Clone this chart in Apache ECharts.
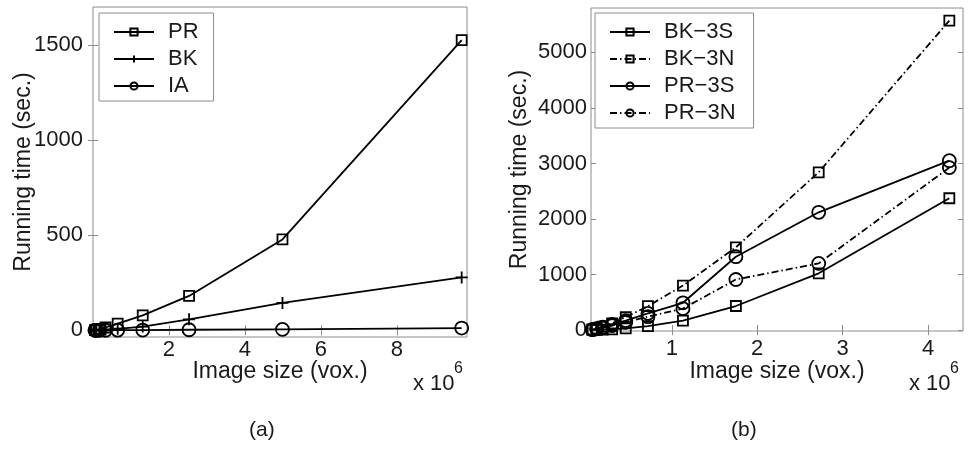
<!DOCTYPE html>
<html>
<head>
<meta charset="utf-8">
<script src="https://cdn.jsdelivr.net/npm/echarts@6/dist/echarts.min.js"></script>
<style>
  html, body { margin: 0; padding: 0; background: #fff; }
  #chart { width: 969px; height: 449px; }
</style>
</head>
<body>
<div id="chart"></div>
<script>
// (a) image size in units of 10^6 voxels
const sizeA = [9.71, 4.99, 2.53, 1.31, 0.65, 0.33, 0.17, 0.09, 0.05]
const prA = [1526, 478, 181, 79, 35, 15, 7, 3, 1]
const bkA = [278, 144, 58, 20, 8, 4, 2, 1, 0.5]
const iaA = [12, 5, 3, 1.5, 1, 0.5, 0.3, 0.2, 0.1]
const xTicksA = [2, 4, 6, 8]
const yTicksA = [0, 500, 1000, 1500]

// (b)
const sizeB = [4.25, 2.72, 1.75, 1.13, 0.72, 0.46, 0.30, 0.19, 0.12, 0.07]
const bk3s = [2373, 1021, 432, 170, 70, 30, 12, 6, 3, 1]
const bk3n = [5573, 2841, 1490, 800, 430, 230, 120, 60, 30, 10]
const pr3s = [3050, 2120, 1320, 490, 300, 170, 100, 50, 25, 8]
const pr3n = [2925, 1200, 910, 385, 240, 140, 80, 40, 20, 6]
const xTicksB = [1, 2, 3, 4]
const yTicksB = [0, 1000, 2000, 3000, 4000, 5000]

const FONT = 'Liberation Sans'
const TXT = '#1a1a1a'
const GREY = '#8c8c8c'
const PLUS = 'path://M5,0L5,10M0,5L10,5'

function pairs(xs, ys) {
  return xs.map((x, i) => [x, ys[i]])
}

function lineSeries(name, grid, xs, ys, symbol, size, dashed) {
  return {
    name: name,
    type: 'line',
    xAxisIndex: grid * 2,
    yAxisIndex: grid * 2,
    data: pairs(xs, ys),
    symbol: symbol,
    symbolSize: size,
    clip: false,
    animation: false,
    lineStyle: { color: '#000', width: 1.8, type: dashed ? [7, 3, 1.5, 3] : 'solid' },
    itemStyle: { color: 'rgba(0,0,0,0)', borderColor: '#000', borderWidth: 1.8 },
    emphasis: { disabled: true }
  }
}

function axisPair(grid, min, max, ticks, isX, labelMargin, name, nameGap) {
  const main = {
    type: 'value',
    gridIndex: grid,
    min: min,
    max: max,
    position: isX ? 'bottom' : 'left',
    axisLine: { show: false },
    splitLine: { show: false },
    axisTick: { inside: true, length: 5, customValues: ticks, lineStyle: { color: GREY } },
    axisLabel: {
      customValues: ticks,
      formatter: v => String(v),
      color: TXT, fontFamily: FONT, fontSize: 22, margin: labelMargin
    },
    name: name,
    nameLocation: 'middle',
    nameGap: nameGap,
    nameMoveOverlap: false,
    nameTextStyle: { color: TXT, fontFamily: FONT, fontSize: 23 }
  }
  const mirror = {
    type: 'value',
    gridIndex: grid,
    min: min,
    max: max,
    position: isX ? 'top' : 'right',
    axisLine: { show: false },
    splitLine: { show: false },
    axisTick: { inside: true, length: 5, customValues: ticks, lineStyle: { color: GREY } },
    axisLabel: { show: false }
  }
  return [main, mirror]
}

function legendAt(names, left, padRight) {
  return {
    data: names,
    orient: 'vertical',
    left: left,
    top: 13,
    padding: [6, padRight, 2, 14],
    itemWidth: 40,
    itemHeight: 9,
    itemGap: 1,
    backgroundColor: '#fff',
    borderColor: GREY,
    borderWidth: 1,
    borderRadius: 0,
    selectedMode: false,
    textStyle: { color: TXT, fontFamily: FONT, fontSize: 22, lineHeight: 26, padding: [0, 0, 0, 9] }
  }
}

const chart = echarts.init(document.getElementById('chart'), null, { renderer: 'canvas' })

const option = {
  backgroundColor: '#fff',
  animation: false,
  grid: [
    { left: 93, top: 7, right: 969 - 467, bottom: 449 - 337, show: true, borderColor: GREY, borderWidth: 1 },
    { left: 591, top: 8, right: 969 - 963, bottom: 449 - 331, show: true, borderColor: GREY, borderWidth: 1 }
  ],
  xAxis: [
    ...axisPair(0, 0, 9.85, xTicksA, true, 2, 'Image size (vox.)', 23),
    ...axisPair(1, 0.053, 4.41, xTicksB, true, 7, 'Image size (vox.)', 29)
  ],
  yAxis: [
    ...axisPair(0, -35, 1700, yTicksA, false, 10, 'Running time (sec.)', 58),
    ...axisPair(1, -18, 5800, yTicksB, false, 4, 'Running time (sec.)', 60)
  ],
  legend: [
    legendAt(['PR', 'BK', 'IA'], 99, 15),
    legendAt(['BK\u22123S', 'BK\u22123N', 'PR\u22123S', 'PR\u22123N'], 595, 18)
  ],
  graphic: [
    { type: 'text', left: 413, top: 373, style: { text: 'x 10', font: '22px "Liberation Sans"', fill: TXT } },
    { type: 'text', left: 454, top: 361, style: { text: '6', font: '16px "Liberation Sans"', fill: TXT } },
    { type: 'text', left: 909, top: 373, style: { text: 'x 10', font: '22px "Liberation Sans"', fill: TXT } },
    { type: 'text', left: 950, top: 361, style: { text: '6', font: '16px "Liberation Sans"', fill: TXT } },
    { type: 'text', left: 249, top: 420, style: { text: '(a)', font: '21px "Liberation Sans"', fill: TXT } },
    { type: 'text', left: 731, top: 420, style: { text: '(b)', font: '21px "Liberation Sans"', fill: TXT } }
  ],
  series: [
    lineSeries('PR', 0, sizeA, prA, 'rect', 10, false),
    lineSeries('BK', 0, sizeA, bkA, PLUS, 12, false),
    lineSeries('IA', 0, sizeA, iaA, 'circle', 13, false),
    lineSeries('BK\u22123S', 1, sizeB, bk3s, 'rect', 10, false),
    lineSeries('BK\u22123N', 1, sizeB, bk3n, 'rect', 10, true),
    lineSeries('PR\u22123S', 1, sizeB, pr3s, 'circle', 13, false),
    lineSeries('PR\u22123N', 1, sizeB, pr3n, 'circle', 13, true)
  ]
}

chart.setOption(option)
</script>
</body>
</html>
